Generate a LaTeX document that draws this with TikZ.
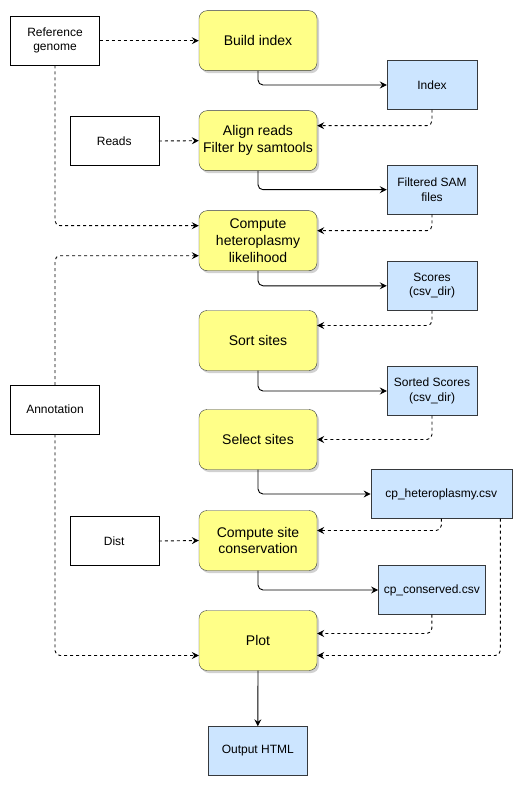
\documentclass[tikz,border=0pt]{standalone}
\usepackage{fontspec}
\setmainfont{Liberation Sans}
\usetikzlibrary{shapes,arrows.meta,positioning,shadows}

\definecolor{stepfill}{HTML}{FFFF88}
\definecolor{datafill}{HTML}{CCE5FF}
\definecolor{edge}{HTML}{36393D}

\begin{document}
\begin{tikzpicture}[x=1pt,y=-1pt,
    proc/.style={draw=edge, fill=stepfill, rounded corners=8pt, minimum width=118pt, minimum height=60pt,
        align=center, inner sep=2pt, font=\fontsize{14}{16.8}\selectfont,
        drop shadow={shadow xshift=2pt, shadow yshift=-2.5pt, opacity=0.3, fill=black!60}},
    data/.style={draw=edge, fill=datafill, minimum height=49pt, align=center, inner sep=2pt,
        font=\fontsize{12}{14.4}\selectfont},
    src/.style={draw, fill=white, minimum width=89pt, minimum height=49pt, align=center, inner sep=2pt,
        font=\fontsize{12}{14.4}\selectfont},
    flow/.style={-{Stealth[length=7pt,width=7pt,inset=2.5pt]}, line width=0.9pt, rounded corners=5pt},
    feed/.style={flow, dash pattern=on 3pt off 3pt}]
    \useasboundingbox (0,0) rectangle (528,786);

    % Inputs
    \node[src] (ref) at (55,40.7) {Reference\\genome};
    \node[src] (reads) at (114.2,141) {Reads};
    \node[src] (annot) at (55,409.7) {Annotation};
    \node[src] (dist) at (114.2,541) {Dist};

    % Steps
    \node[proc] (build) at (258,40.7) {Build index};
    \node[proc] (align) at (258,140.7) {Align reads\\Filter by samtools};
    \node[proc] (het) at (258,240.7) {Compute\\heteroplasmy\\likelihood};
    \node[proc] (sort) at (258,340.5) {Sort sites};
    \node[proc] (select) at (258,439.5) {Select sites};
    \node[proc] (cons) at (258,540.5) {Compute site\\conservation};
    \node[proc] (plot) at (258,640.5) {Plot};

    % Outputs
    \node[data, minimum width=90pt] (index) at (432,85) {Index};
    \node[data, minimum width=90pt] (sam) at (432,189.7) {Filtered SAM\\files};
    \node[data, minimum width=90pt] (scores) at (432,285.8) {Scores\\(csv\_dir)};
    \node[data, minimum width=90pt] (sorted) at (432,391) {Sorted Scores\\(csv\_dir)};
    \node[data, minimum width=141pt] (cphet) at (441.3,494) {cp\_heteroplasmy.csv};
    \node[data, minimum width=107pt] (cpcons) at (431.8,590) {cp\_conserved.csv};
    \node[data, minimum width=99pt] (html) at (257.8,751) {Output HTML};

    % Step -> output
    \draw[flow] (build.south) |- (index.west);
    \draw[flow] (align.south) |- (sam.west);
    \draw[flow] (het.south) |- (scores.west);
    \draw[flow] (sort.south) |- (sorted.west);
    \draw[flow] (select.south) |- (cphet.west);
    \draw[flow] (cons.south) |- (cpcons.west);
    \draw[flow] (plot.south) -- (html.north);

    % Output -> next step
    \draw[feed] (index.south) |- ([yshift=15pt]align.east);
    \draw[feed] (sam.south) |- ([yshift=10pt]het.east);
    \draw[feed] (scores.south) |- ([yshift=15pt]sort.east);
    \draw[feed] (sorted.south) |- (select.east);
    \draw[feed] (cphet.south) |- ([yshift=10pt]cons.east);
    \draw[feed] (cpcons.south) |- ([yshift=7pt]plot.east);
    \draw[feed] ([xshift=59pt]cphet.south) |- ([yshift=-15pt]plot.east);

    % Inputs -> steps
    \draw[feed] (ref.east) -- (build.west);
    \draw[feed] (ref.south) |- ([yshift=15pt]het.west);
    \draw[feed] (reads.east) -- (align.west);
    \draw[feed] (annot.north) |- ([yshift=-15pt]het.west);
    \draw[feed] (dist.east) -- (cons.west);
    \draw[feed] (annot.south) |- ([yshift=-15pt]plot.west);
\end{tikzpicture}
\end{document}
